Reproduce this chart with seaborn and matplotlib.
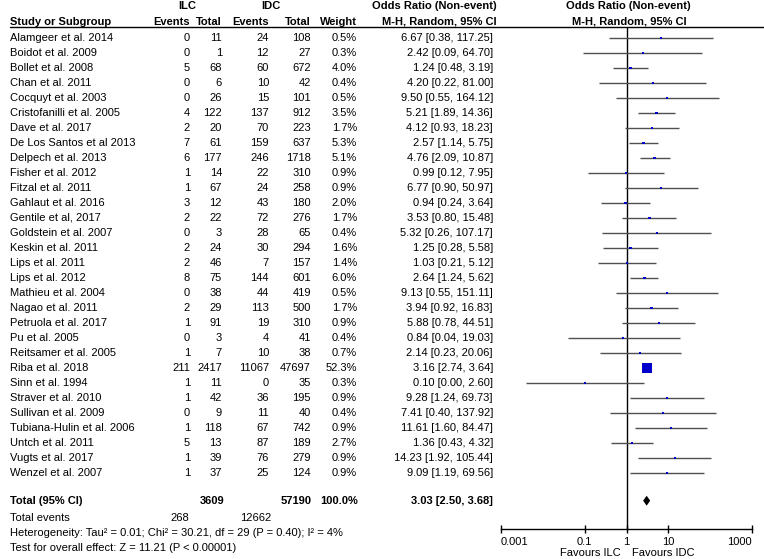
import numpy as np
import pandas as pd
import matplotlib
matplotlib.use("Agg")
import matplotlib.pyplot as plt
import matplotlib.transforms as mtransforms
from matplotlib.lines import Line2D
import seaborn as sns

studies = ["Alamgeer et al. 2014", "Boidot et al. 2009", "Bollet et al. 2008", "Chan et al. 2011",
           "Cocquyt et al. 2003", "Cristofanilli et al. 2005", "Dave et al. 2017", "De Los Santos et al 2013",
           "Delpech et al. 2013", "Fisher et al. 2012", "Fitzal et al. 2011", "Gahlaut et al. 2016",
           "Gentile et al, 2017", "Goldstein et al. 2007", "Keskin et al. 2011", "Lips et al. 2011",
           "Lips et al. 2012", "Mathieu et al. 2004", "Nagao et al. 2011", "Petruola et al. 2017",
           "Pu et al. 2005", "Reitsamer et al. 2005", "Riba et al. 2018", "Sinn et al. 1994",
           "Straver et al. 2010", "Sullivan et al. 2009", "Tubiana-Hulin et al. 2006", "Untch et al. 2011",
           "Vugts et al. 2017", "Wenzel et al. 2007"]
ilc_events = [0, 0, 5, 0, 0, 4, 2, 7, 6, 1, 1, 3, 2, 0, 2, 2, 8, 0, 2, 1, 0, 1, 211, 1, 1, 0, 1, 5, 1, 1]
ilc_total = [11, 1, 68, 6, 26, 122, 20, 61, 177, 14, 67, 12, 22, 3, 24, 46, 75, 38, 29, 91, 3, 7, 2417, 11, 42, 9, 118, 13, 39, 37]
idc_events = [24, 12, 60, 10, 15, 137, 70, 159, 246, 22, 24, 43, 72, 28, 30, 7, 144, 44, 113, 19, 4, 10, 11067, 0, 36, 11, 67, 87, 76, 25]
idc_total = [108, 27, 672, 42, 101, 912, 223, 637, 1718, 310, 258, 180, 276, 65, 294, 157, 601, 419, 500, 310, 41, 38, 47697, 35, 195, 40, 742, 189, 279, 124]
weight = [0.5, 0.3, 4.0, 0.4, 0.5, 3.5, 1.7, 5.3, 5.1, 0.9, 0.9, 2.0, 1.7, 0.4, 1.6, 1.4, 6.0, 0.5, 1.7, 0.9, 0.4, 0.7, 52.3, 0.3, 0.9, 0.4, 0.9, 2.7, 0.9, 0.9]
odds = [6.67, 2.42, 1.24, 4.20, 9.50, 5.21, 4.12, 2.57, 4.76, 0.99, 6.77, 0.94, 3.53, 5.32, 1.25, 1.03, 2.64, 9.13, 3.94, 5.88, 0.84, 2.14, 3.16, 0.10, 9.28, 7.41, 11.61, 1.36, 14.23, 9.09]
ci_low = [0.38, 0.09, 0.48, 0.22, 0.55, 1.89, 0.93, 1.14, 2.09, 0.12, 0.90, 0.24, 0.80, 0.26, 0.28, 0.21, 1.24, 0.55, 0.92, 0.78, 0.04, 0.23, 2.74, 0.004, 1.24, 0.40, 1.60, 0.43, 1.92, 1.19]
ci_high = [117.25, 64.70, 3.19, 81.00, 164.12, 14.36, 18.23, 5.75, 10.87, 7.95, 50.97, 3.64, 15.48, 107.17, 5.58, 5.12, 5.62, 151.11, 16.83, 44.51, 19.03, 20.06, 3.64, 2.60, 69.73, 137.92, 84.47, 4.32, 105.44, 69.56]
total_or = [2.50, 3.03, 3.68]
total_n = [3609, 57190]
total_events = [268, 12662]
tick_vals = [0.001, 0.1, 1, 10, 1000]
tick_labels = ["0.001", "0.1", "1", "10", "1000"]

df = pd.DataFrame({"study": studies, "or": odds, "lo": ci_low, "hi": ci_high, "w": weight})
df["row"] = np.arange(len(df))

W, H = 764, 559
sns.set_style("white")
plt.rcParams["font.family"] = ["Liberation Sans", "DejaVu Sans"]
FS = 8

fig = plt.figure(figsize=(W / 100, H / 100), dpi=100)
ax_left, ax_right = 501, 752
ax_top, ax_bot = 27.3, 529
row0, dy = 38, 15.0
ax = fig.add_axes([ax_left / W, 1 - ax_bot / H, (ax_right - ax_left) / W, (ax_bot - ax_top) / H])
ax.set_xscale("log")
ax.set_xlim(0.001, 1000)
ax.set_ylim((ax_bot - row0) / dy, (ax_top - row0) / dy)

# CIs
ax.hlines(df["row"], df["lo"], df["hi"], color="#505050", lw=1)
# squares
side_px = 2 + 8 * df["w"] / 52.3
sns.scatterplot(data=df, x="or", y="row", marker="s", color="#0000c8", s=(side_px * 0.72) ** 2,
                linewidth=0, ax=ax, legend=False, zorder=3)
ax.axvline(1, color="black", lw=1, zorder=1)

# diamond
trow = (500.7 - row0) / dy
hh = 5 / dy
ax.fill([total_or[0], total_or[1], total_or[2], total_or[1]], [trow, trow - hh, trow, trow + hh],
        color="black", lw=0)

for s in ["top", "right", "left"]:
    ax.spines[s].set_visible(False)
ax.spines["bottom"].set_color("black")
ax.spines["bottom"].set_linewidth(1)
ax.set_yticks([])
ax.set_xticks(tick_vals)
ax.set_xticklabels(tick_labels)
ax.xaxis.set_minor_locator(matplotlib.ticker.NullLocator())
ax.tick_params(axis="x", direction="inout", length=6, width=1, color="black", labelsize=FS, pad=2.5,
               bottom=True, labelcolor="black")
labs = ax.get_xticklabels()
labs[0].set_ha("left")
labs[-1].set_ha("right")
ax.set_xlabel("")
ax.set_ylabel("")

blend = mtransforms.blended_transform_factory(fig.transFigure, ax.transData)


def T(xpx, row, s, ha="right", bold=False):
    ax.text(xpx / W, row, s, transform=blend, ha=ha, va="center", fontsize=FS,
            fontweight="bold" if bold else "normal", color="black", clip_on=False)


def ypx(p):
    return (p - row0) / dy


# headers
h1, h2 = ypx(6), ypx(21.7)
T(187, h1, "ILC", ha="center", bold=True)
T(271, h1, "IDC", ha="center", bold=True)
T(497, h1, "Odds Ratio (Non-event)", bold=True)
T(628, h1, "Odds Ratio (Non-event)", ha="center", bold=True)
T(10, h2, "Study or Subgroup", ha="left", bold=True)
T(190, h2, "Events", bold=True)
T(222, h2, "Total", bold=True)
T(269, h2, "Events", bold=True)
T(311, h2, "Total", bold=True)
T(357, h2, "Weight", bold=True)
T(497, h2, "M-H, Random, 95% CI", bold=True)
T(629, h2, "M-H, Random, 95% CI", ha="center", bold=True)
fig.add_artist(Line2D([10 / W, 1], [1 - ax_top / H] * 2, transform=fig.transFigure, color="black", lw=1))

for i, r in df.iterrows():
    T(10, r["row"], r["study"], ha="left")
    T(190, r["row"], str(ilc_events[i]))
    T(222, r["row"], str(ilc_total[i]))
    T(269, r["row"], str(idc_events[i]))
    T(311, r["row"], str(idc_total[i]))
    T(357, r["row"], f"{r['w']:.1f}%")
    T(493, r["row"], f"{r['or']:.2f} [{r['lo']:.2f}, {r['hi']:.2f}]")

T(10, trow, "Total (95% CI)", ha="left", bold=True)
T(224, trow, str(total_n[0]), bold=True)
T(311.5, trow, str(total_n[1]), bold=True)
T(358, trow, "100.0%", bold=True)
T(493, trow, f"{total_or[1]:.2f} [{total_or[0]:.2f}, {total_or[2]:.2f}]", bold=True)
T(10, ypx(517.7), "Total events", ha="left")
T(189, ypx(517.7), str(total_events[0]))
T(271, ypx(517.7), str(total_events[1]))
T(10, ypx(532.7), "Heterogeneity: Tau\u00b2 = 0.01; Chi\u00b2 = 30.21, df = 29 (P = 0.40); I\u00b2 = 4%", ha="left")
T(10, ypx(547.7), "Test for overall effect: Z = 11.21 (P < 0.00001)", ha="left")
T(621, ypx(553), "Favours ILC", ha="right")
T(632, ypx(553), "Favours IDC", ha="left")

fig.savefig("out.png", dpi=100)
